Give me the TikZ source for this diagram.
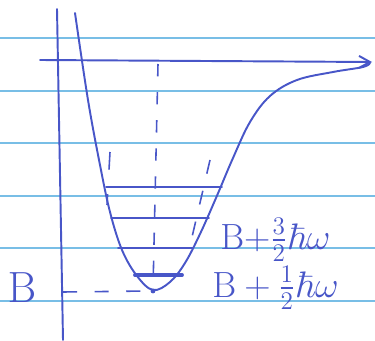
\documentclass[tikz,border=0pt]{standalone}
\usepackage{amsmath,amssymb}
\usetikzlibrary{arrows.meta}
\definecolor{ink}{RGB}{72,86,200}
\definecolor{rule}{RGB}{120,190,230}
\tikzset{
  pen/.style={draw=ink,line width=1.1pt,line cap=round,line join=round},
  ruling/.style={draw=rule,line width=0.8pt},
  guide/.style={draw=ink,line width=0.9pt,dash pattern=on 7pt off 9pt},
  level/.style={pen},
  lab/.style={text=ink,inner sep=0pt,font=\fontsize{21}{24}\selectfont}
}
\begin{document}
\begin{tikzpicture}[x=0.02cm,y=-0.02cm]
  \useasboundingbox (0,0) rectangle (375,341);
  % ---- ruled paper ----
  \foreach \yy in {38,91,143,196,248,301}
    \draw[ruling] (0,\yy) -- (375,\yy);

  % ---- axes ----
  \draw[pen] (57,9) -- (63,340);
  \draw[pen,-{Straight Barb[length=2.2mm,width=2.4mm]}] (40,60) -- (372,62);

  % ---- potential well ----
  \draw[pen] plot[smooth,tension=0.6] coordinates {
    (75,13) (88,100) (100,165) (110,212) (122,250) (137,276) (153,290)
    (170,282) (185,263) (200,234) (216,198) (233,158) (250,122)
    (270,96) (297,80) (333,72) (363,67) (370,63)};

  % ---- levels ----
  \draw[level] (106,187) -- (222,187);
  \draw[level] (111,218) -- (209,218);
  \draw[level] (118,248) -- (193,248);
  \draw[level,line width=2.2pt] (135,275) -- (182,275);
  \fill[ink] (153,291) circle[radius=2.4];

  % ---- guides ----
  \draw[guide] (158,64) -- (153,289);
  \draw[guide,dash pattern=on 10pt off 14pt] (110,152) -- (107,205);
  \draw[guide,dash pattern=on 8pt off 10pt] (210,160) -- (189,250);
  \draw[guide,dash pattern=on 8pt off 10pt] (63,292) -- (148,291);

  % ---- labels ----
  \node[lab,font=\fontsize{24}{26}\selectfont] (lblB) at (22,288) {$\mathrm{B}$};
  \node[lab,anchor=base west] (lblA) at (220,249) {$\mathrm{B}{+}\tfrac{3}{2}\hbar\omega$};
  \node[lab,anchor=base west] (lblC) at (212,297) {$\mathrm{B}+\tfrac{1}{2}\hbar\omega$};
\end{tikzpicture}
\end{document}
